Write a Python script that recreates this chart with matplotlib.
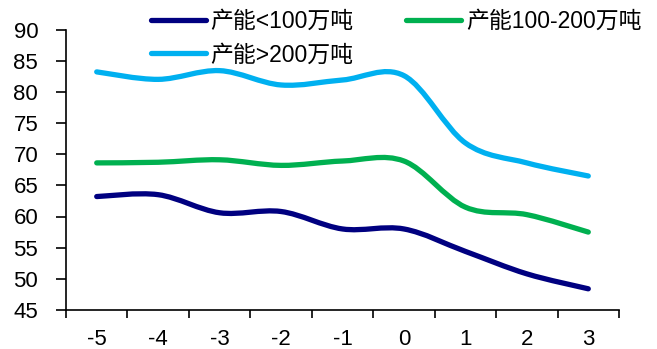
import matplotlib.pyplot as plt
import numpy as np
from matplotlib.path import Path
from matplotlib.patches import PathPatch
from matplotlib.lines import Line2D

plt.rcParams['font.family'] = ['Liberation Sans', 'Noto Sans CJK SC']

# x categories (relative year) and utilisation rates by capacity group
years = ['-5', '-4', '-3', '-2', '-1', '0', '1', '2', '3']
small = [63.2, 63.5, 60.6, 60.8, 58.0, 58.0, 54.4, 50.8, 48.4]     # <100万吨
medium = [68.6, 68.7, 69.1, 68.2, 68.9, 68.9, 61.5, 60.3, 57.5]    # 100-200万吨
large = [83.2, 82.0, 83.4, 81.1, 81.9, 82.6, 71.8, 68.6, 66.5]     # >200万吨

labels = ['产能<100万吨', '产能100-200万吨', '产能>200万吨']
colors = ['#000080', '#00B050', '#00B0F0']


def smooth_path(xs, ys):
    # excel-style smoothed line: cubic bezier through every point (catmull-rom tangents)
    pts = np.column_stack([xs, ys]).astype(float)
    n = len(pts)
    verts = [pts[0]]
    codes = [Path.MOVETO]
    for i in range(n - 1):
        p0 = pts[i - 1] if i > 0 else pts[i]
        p1 = pts[i]
        p2 = pts[i + 1]
        p3 = pts[i + 2] if i + 2 < n else pts[i + 1]
        c1 = p1 + (p2 - p0) / 6.0
        c2 = p2 - (p3 - p1) / 6.0
        verts += [c1, c2, p2]
        codes += [Path.CURVE4] * 3
    return Path(verts, codes)


fig = plt.figure(figsize=(6.57, 3.49), dpi=100)
ax = fig.add_axes([66 / 657, 1 - 310 / 349, (619 - 66) / 657, (310 - 29.5) / 349])

x = np.arange(len(years))
handles = []
for vals, c, lab in zip([small, medium, large], colors, labels):
    patch = PathPatch(smooth_path(x, vals), facecolor='none', edgecolor=c,
                      lw=3.8, capstyle='round', joinstyle='round')
    ax.add_patch(patch)
    handles.append(Line2D([], [], color=c, lw=3.8, solid_capstyle='round', label=lab))

ax.set_xlim(-0.5, len(years) - 0.5)
ax.set_ylim(45, 90)
ax.set_yticks(np.arange(45, 91, 5))

# category axis: tick marks between categories, labels at the centres
ax.set_xticks(np.arange(-0.5, len(years), 1.0))
ax.set_xticklabels([])
ax.set_xticks(x, minor=True)
ax.set_xticklabels(years, minor=True)
ax.tick_params(axis='x', which='major', direction='out', length=6, width=1.2)
ax.tick_params(axis='x', which='minor', length=0, pad=14, labelsize=16)
ax.tick_params(axis='y', direction='out', length=7, width=1.2, pad=13, labelsize=16)

for s in ['top', 'right']:
    ax.spines[s].set_visible(False)
for s in ['left', 'bottom']:
    ax.spines[s].set_linewidth(1.2)

order = [handles[0], handles[2], handles[1]]
fig.legend(handles=order, labels=[h.get_label() for h in order], fontsize=16.5,
           ncol=2, frameon=False, loc='upper left',
           bbox_to_anchor=(151 / 657, 1 - 10 / 349),
           borderpad=0, borderaxespad=0, handlelength=2.4, handletextpad=0.2,
           columnspacing=2.3, labelspacing=0.45)

plt.savefig('out.png', dpi=100)
